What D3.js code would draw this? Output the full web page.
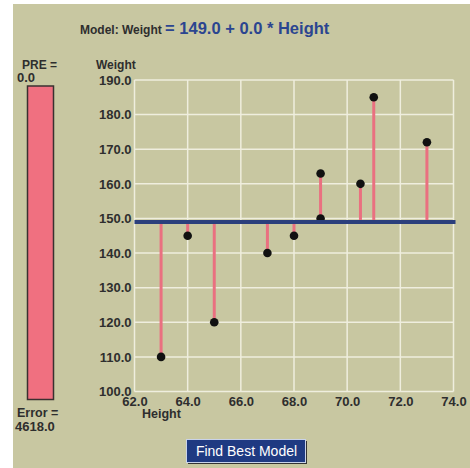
<!DOCTYPE html>
<html>
<head>
<meta charset="utf-8">
<script src="https://cdn.jsdelivr.net/npm/d3@7"></script>
<style>
  html, body { margin: 0; padding: 0; background: #ffffff; }
  svg { display: block; font-family: "Liberation Sans", Arial, sans-serif; }
</style>
</head>
<body>
<svg id="chart" width="470" height="468"></svg>
<script>
// ---- data ----
const heights = [63, 64, 65, 67, 68, 69, 69, 70.5, 71, 73];
const weights = [110, 145, 120, 140, 145, 163, 150, 160, 185, 172];
const modelIntercept = 149.0;
const modelSlope = 0.0;
const xTicks = [62, 64, 66, 68, 70, 72, 74];
const yTicks = [100, 110, 120, 130, 140, 150, 160, 170, 180, 190];
const preValue = 0.0;
const errorValue = 4618.0;

const svg = d3.select("#chart");
const W = 470, H = 468;

// background
svg.append("rect").attr("x", 13).attr("y", 4).attr("width", W - 13).attr("height", H - 4)
  .attr("fill", "#c8c7a1");

const x = d3.scaleLinear().domain([62, 74]).range([134.5, 453.5]);
const y = d3.scaleLinear().domain([100, 190]).range([391.5, 80]);

// gridlines
const grid = svg.append("g");
grid.selectAll("line.v").data(xTicks).join("line")
  .attr("x1", d => x(d)).attr("x2", d => x(d))
  .attr("y1", y(190)).attr("y2", y(100))
  .attr("stroke", "#efeede").attr("stroke-width", 1.5);
grid.selectAll("line.h").data(yTicks).join("line")
  .attr("x1", x(62)).attr("x2", x(74))
  .attr("y1", d => y(d)).attr("y2", d => y(d))
  .attr("stroke", "#efeede").attr("stroke-width", 1.5);

// axes labels (tick text only)
const yAxis = d3.axisLeft(y).tickValues(yTicks).tickFormat(d3.format(".1f")).tickSize(0).tickPadding(3);
const gy = svg.append("g").attr("transform", `translate(${x(62)},0)`).call(yAxis);
gy.select(".domain").remove();
gy.selectAll("text").attr("font-size", 13).attr("font-weight", "bold")
  .attr("fill", "#2e2e2e").attr("font-family", "Liberation Sans, Arial, sans-serif");

const xAxis = d3.axisBottom(x).tickValues(xTicks).tickFormat(d3.format(".1f")).tickSize(0).tickPadding(5);
const gx = svg.append("g").attr("transform", `translate(0,${y(100)})`).call(xAxis);
gx.select(".domain").remove();
gx.selectAll("text").attr("font-size", 13).attr("font-weight", "bold")
  .attr("fill", "#2e2e2e").attr("font-family", "Liberation Sans, Arial, sans-serif");

// residual stems
const pts = heights.map((h, i) => ({ h, w: weights[i] }));
const pred = h => modelIntercept + modelSlope * h;
svg.append("g").selectAll("line").data(pts).join("line")
  .attr("x1", d => x(d.h)).attr("x2", d => x(d.h))
  .attr("y1", d => y(pred(d.h))).attr("y2", d => y(d.w))
  .attr("stroke", "#ea7080").attr("stroke-width", 3);

// points
svg.append("g").selectAll("circle").data(pts).join("circle")
  .attr("cx", d => x(d.h)).attr("cy", d => y(d.w)).attr("r", 4.3)
  .attr("fill", "#111111");

// model line
svg.append("line")
  .attr("x1", x(62)).attr("x2", x(74) + 2)
  .attr("y1", y(pred(62))).attr("y2", y(pred(74)))
  .attr("stroke", "#2b3f7c").attr("stroke-width", 4);

// titles
const t = svg.append("text").attr("x", 80).attr("y", 34).attr("font-weight", "bold");
t.append("tspan").attr("font-size", 12).attr("fill", "#2e2e2e").text("Model:  Weight ");
t.append("tspan").attr("font-size", 16.5).attr("fill", "#2b4590").text("= " +
  d3.format(".1f")(modelIntercept) + " + " + d3.format(".1f")(modelSlope) + " * Height");

svg.append("text").attr("x", 96).attr("y", 69).attr("font-size", 12).attr("font-weight", "bold")
  .attr("fill", "#2e2e2e").text("Weight");
svg.append("text").attr("x", 142).attr("y", 418).attr("font-size", 12.5).attr("font-weight", "bold")
  .attr("fill", "#2e2e2e").text("Height");

// PRE bar
svg.append("text").attr("x", 22).attr("y", 69).attr("font-size", 12).attr("font-weight", "bold")
  .attr("fill", "#2e2e2e").text("PRE =");
svg.append("text").attr("x", 17).attr("y", 82).attr("font-size", 13).attr("font-weight", "bold")
  .attr("fill", "#2e2e2e").text(d3.format(".1f")(preValue));
svg.append("rect").attr("x", 27.5).attr("y", 86).attr("width", 26).attr("height", 313.5)
  .attr("fill", "#f07080").attr("stroke", "#3a3030").attr("stroke-width", 1.5);
svg.append("text").attr("x", 17).attr("y", 417).attr("font-size", 12.5).attr("font-weight", "bold")
  .attr("fill", "#2e2e2e").text("Error =");
svg.append("text").attr("x", 15).attr("y", 431).attr("font-size", 13).attr("font-weight", "bold")
  .attr("fill", "#2e2e2e").text(d3.format(".1f")(errorValue));

// button
const b = svg.append("g");
b.append("rect").attr("x", 188).attr("y", 441).attr("width", 119).attr("height", 23).attr("fill", "#333");
b.append("rect").attr("x", 186.5).attr("y", 439.5).attr("width", 119).attr("height", 23)
  .attr("fill", "#1f3a82").attr("stroke", "#c9d3ea").attr("stroke-width", 1);
b.append("text").attr("x", 246.5).attr("y", 456).attr("text-anchor", "middle")
  .attr("font-size", 14).attr("fill", "#ffffff").text("Find Best Model");
</script>
</body>
</html>
